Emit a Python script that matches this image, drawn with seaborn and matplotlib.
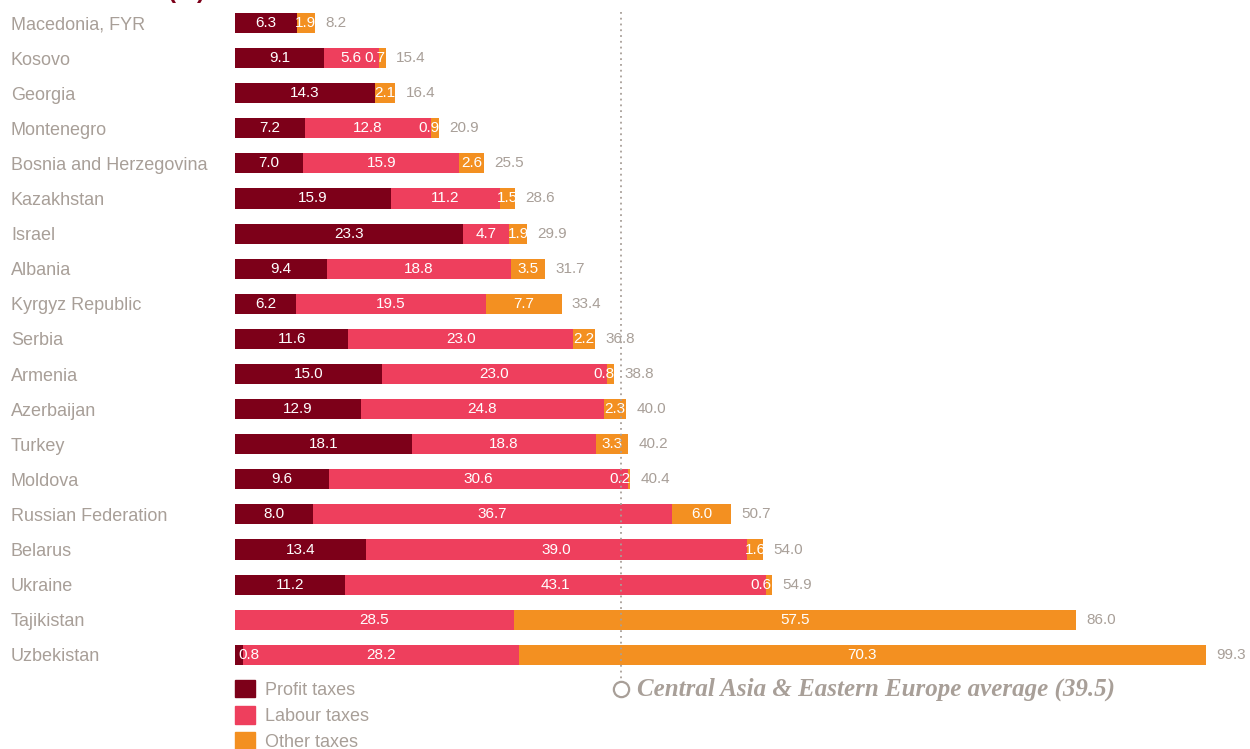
import numpy as np
import pandas as pd
import matplotlib.pyplot as plt
import seaborn as sns
from matplotlib.patches import Patch


# Total tax rate split by type, one row per country
countries = ["Macedonia, FYR", "Kosovo", "Georgia", "Montenegro", "Bosnia and Herzegovina",
             "Kazakhstan", "Israel", "Albania", "Kyrgyz Republic", "Serbia", "Armenia",
             "Azerbaijan", "Turkey", "Moldova", "Russian Federation", "Belarus", "Ukraine",
             "Tajikistan", "Uzbekistan"]
profit = [6.3, 9.1, 14.3, 7.2, 7.0, 15.9, 23.3, 9.4, 6.2, 11.6, 15.0, 12.9, 18.1, 9.6, 8.0,
          13.4, 11.2, 0.0, 0.8]
labour = [0.0, 5.6, 0.0, 12.8, 15.9, 11.2, 4.7, 18.8, 19.5, 23.0, 23.0, 24.8, 18.8, 30.6, 36.7,
          39.0, 43.1, 28.5, 28.2]
other = [1.9, 0.7, 2.1, 0.9, 2.6, 1.5, 1.9, 3.5, 7.7, 2.2, 0.8, 2.3, 3.3, 0.2, 6.0, 1.6, 0.6,
         57.5, 70.3]
total = [8.2, 15.4, 16.4, 20.9, 25.5, 28.6, 29.9, 31.7, 33.4, 36.8, 38.8, 40.0, 40.2, 40.4,
         50.7, 54.0, 54.9, 86.0, 99.3]
series_names = ["Profit taxes", "Labour taxes", "Other taxes"]
avg_value = 39.5
avg_label = "Central Asia & Eastern Europe average (39.5)"
title = "Total tax rate (%)"

DARK = "#7d0019"
PINK = "#ee3f5d"
ORANGE = "#f39021"
GREY = "#a89f98"

plt.rcParams['font.family'] = ['Liberation Sans', 'DejaVu Sans']

df = pd.DataFrame({"country": countries, "profit": profit, "labour": labour,
                   "other": other, "total": total})
df["profit_labour"] = df["profit"] + df["labour"]

fig = plt.figure(figsize=(12.5, 7.49), dpi=100)
W, H = 1250, 749
x0 = 235
px_per_unit = 9.78
row0, row_step = 23, 35.1
ax = fig.add_axes([x0 / W, 0, 1 - x0 / W, 1])

# stacked bars: draw the longest first, shorter ones on top
sns.barplot(data=df, x="total", y="country", orient="h", color=ORANGE, saturation=1,
            width=0.57, linewidth=0, ax=ax)
sns.barplot(data=df, x="profit_labour", y="country", orient="h", color=PINK, saturation=1,
            width=0.57, linewidth=0, ax=ax)
sns.barplot(data=df, x="profit", y="country", orient="h", color=DARK, saturation=1,
            width=0.57, linewidth=0, ax=ax)

ax.set_xlim(0, (W - x0) / px_per_unit)
ax.set_ylim((H - row0) / row_step, -row0 / row_step)

# values inside the segments
for i in range(len(countries)):
    start = 0
    segs = [profit[i], labour[i], other[i]]
    for k, v in enumerate(segs):
        if v > 0:
            if v < 1:
                if start == 0:
                    ax.text(start + 0.3, i, f"{v:.1f}", color="white", fontsize=11,
                            ha="left", va="center")
                else:
                    ax.text(start + v, i, f"{v:.1f}", color="white", fontsize=11,
                            ha="right", va="center")
            else:
                ax.text(start + v / 2, i, f"{v:.1f}", color="white", fontsize=11,
                        ha="center", va="center")
        start += v
    ax.text(total[i] + 1.05, i, f"{total[i]:.1f}", color=GREY, fontsize=11,
            ha="left", va="center")

# average reference line
line_top = (12 - row0) / row_step
line_bot = (679 - row0) / row_step
marker_y = (689 - row0) / row_step
ax.plot([avg_value, avg_value], [line_top, line_bot], color=GREY, lw=1.3,
        ls=(0, (1, 2.2)), zorder=5)
ax.plot([avg_value], [marker_y], marker="o", ms=11, mfc="white", mec=GREY, mew=1.6,
        zorder=6, clip_on=False)
ax.text(avg_value + 1.65, marker_y, avg_label, color=GREY, fontsize=18,
        family=["Liberation Serif", "DejaVu Serif"], fontweight="bold", style="italic",
        ha="left", va="center")

# country names on the left
ax.set_ylabel("")
ax.set_xlabel("")
ax.set_xticks([])
ax.tick_params(axis="y", length=0, pad=(x0 - 11) * 0.72, labelsize=13, labelcolor=GREY)
for lab in ax.get_yticklabels():
    lab.set_horizontalalignment("left")
for s in ax.spines.values():
    s.set_visible(False)

handles = [Patch(color=c, label=n) for c, n in zip([DARK, PINK, ORANGE], series_names)]
leg = ax.legend(handles=handles, loc="upper left", bbox_to_anchor=(x0 / W, 1 - 680 / H),
                bbox_transform=fig.transFigure, frameon=False, fontsize=13,
                handlelength=1.1, handleheight=1.1, handletextpad=0.55,
                labelspacing=0.41, borderaxespad=0, borderpad=0)
for t in leg.get_texts():
    t.set_color(GREY)

# title is mostly cut off at the top edge, as in the source
fig.text(205 / W, 1 + 2 / H, title, color=DARK, fontsize=17, fontweight="bold",
         ha="right", va="baseline")

fig.savefig("out.png", dpi=100)
